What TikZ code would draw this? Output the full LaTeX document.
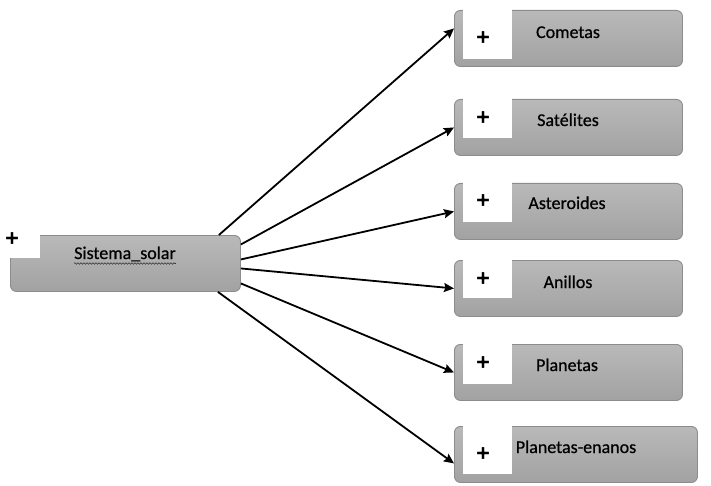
\documentclass[tikz,border=0pt]{standalone}
\usepackage{fontspec}
\setmainfont{Carlito}[FakeBold=0.6]
\newfontfamily\plusfont{DejaVu Sans Bold}[FakeBold=2]
\usetikzlibrary{arrows.meta,calc,decorations.pathmorphing}
\definecolor{boxtop}{HTML}{B9B9B9}
\definecolor{boxbot}{HTML}{A2A2A2}
\definecolor{boxline}{HTML}{8C8C8C}
\begin{document}
\begin{tikzpicture}[x=1pt,y=-1pt,
  cbox/.style={draw=boxline, line width=0.9pt, rounded corners=6pt,
    top color=boxtop, bottom color=boxbot, anchor=north west, inner sep=0pt,
    minimum height=56pt},
  plus/.style={font=\plusfont\fontsize{18}{18}\selectfont, inner sep=0pt},
  lbl/.style={font=\fontsize{18}{20}\selectfont, inner sep=0pt, anchor=base, text=black},
  arr/.style={-{Stealth[length=10pt,width=9pt,inset=1.5pt]}, line width=1.8pt}]
\useasboundingbox (0,0) rectangle (711,486);

% boxes
\node[cbox, minimum width=230pt] (sol) at (10,235) {};
\node[cbox, minimum width=228pt] (com) at (454,10) {};
\node[cbox, minimum width=228pt] (sat) at (454,99) {};
\node[cbox, minimum width=228pt] (ast) at (454,183) {};
\node[cbox, minimum width=228pt] (ani) at (454,260) {};
\node[cbox, minimum width=228pt] (pla) at (454,344) {};
\node[cbox, minimum width=243pt] (ena) at (454,426) {};

% white notches
\fill[white] ($(sol.north west)+(-1,-1)$) rectangle +(31,24);
\fill[white] ($(com.north west)+(9,-0.5)$) rectangle +(49,49.5);
\fill[white] ($(sat.north west)+(9,-0.5)$) rectangle +(49,40);
\fill[white] ($(ast.north west)+(9,-0.5)$) rectangle +(49,39.5);
\fill[white] ($(ani.north west)+(9,-0.5)$) rectangle +(49,38.5);
\fill[white] ($(pla.north west)+(9,-0.5)$) rectangle +(49,40.5);
\fill[white] ($(ena.north west)+(9,-0.5)$) rectangle +(49,48.5);

% plus signs
\node[plus] (psol) at (12,238) {+};
\node[plus] (pcom) at (483,37) {+};
\node[plus] (psat) at (483,117) {+};
\node[plus] (past) at (483,200) {+};
\node[plus] (pani) at (483,278) {+};
\node[plus] (ppla) at (483,362) {+};
\node[plus] (pena) at (483,453) {+};

% labels
\node[lbl] (tsol) at (125,259) {Sistema\_solar};
\node[lbl] (tcom) at (568,38) {Cometas};
\node[lbl] (tsat) at (568,126) {Satélites};
\node[lbl] (tast) at (567,209) {Asteroides};
\node[lbl] (tani) at (568,288) {Anillos};
\node[lbl] (tpla) at (567,371) {Planetas};
\node[lbl] (tena) at (576,453) {Planetas-enanos};

% spell-check squiggle
\draw[decorate, decoration={snake, amplitude=0.8pt, segment length=3pt},
  line width=0.6pt, black!80]
  ($(tsol.base west)+(0,4.5)$) -- ($(tsol.base east)+(0,4.5)$);

% connectors
\draw[arr] ($(sol.north east)+(-22,0)$) -- ($(com.west)+(0,-10)$);
\draw[arr] ($(sol.east)+(0,-19)$) -- (sat.west);
\draw[arr] ($(sol.east)+(0,-4)$) -- (ast.west);
\draw[arr] ($(sol.east)+(0,5)$) -- (ani.west);
\draw[arr] ($(sol.east)+(0,20)$) -- (pla.west);
\draw[arr] ($(sol.south east)+(-23,0)$) -- ($(ena.west)+(0,9)$);
\end{tikzpicture}
\end{document}
